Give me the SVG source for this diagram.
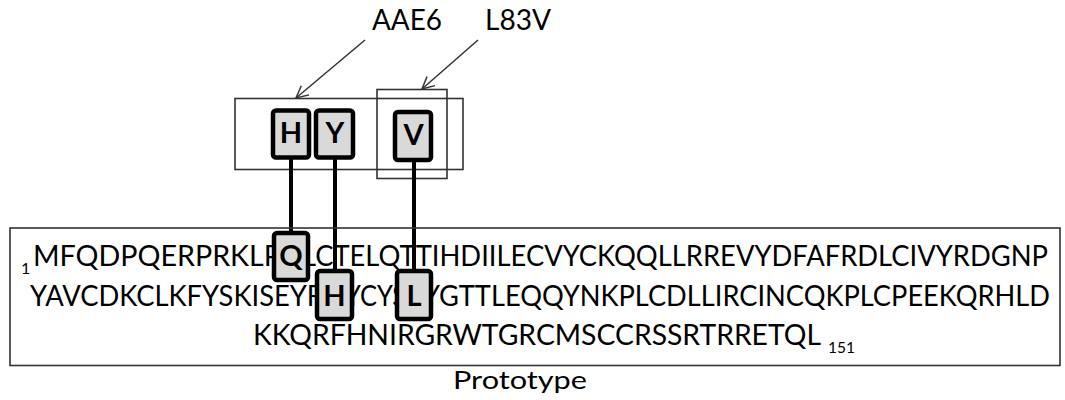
<svg xmlns="http://www.w3.org/2000/svg" width="1065" height="400" viewBox="0 0 1065 400">
  <style>
    .seq { font-family: Lato, "Open Sans", "Liberation Sans", sans-serif; font-size: 28px; fill: #000; }
    .sub { font-family: Lato, "Open Sans", "Liberation Sans", sans-serif; font-size: 16px; fill: #000; }
    .lbl { font-family: Lato, "Open Sans", "Liberation Sans", sans-serif; font-size: 28px; fill: #000; }
    .res { font-family: Lato, "Open Sans", "Liberation Sans", sans-serif; font-size: 29px; font-weight: bold; fill: #000; text-anchor: middle; }
    .frame { fill: none; stroke: #333; stroke-width: 1.6; }
    .rbox { fill: #d9d9d9; stroke: #000; stroke-width: 4.5; }
    .link { stroke: #000; stroke-width: 4; fill: none; }
    .arrow { stroke: #333; stroke-width: 1.5; fill: none; marker-end: url(#open); }
  </style>
  <defs>
    <marker id="open" markerUnits="userSpaceOnUse" markerWidth="16" markerHeight="16" refX="13" refY="7" orient="auto">
      <path d="M1,1 L13,7 L1,13" fill="none" stroke="#333" stroke-width="1.5"/>
    </marker>
  </defs>

  <rect width="1065" height="400" fill="#fff"/>

  <!-- Labels -->
  <g id="label-aae6">
    <text class="lbl" x="372" y="30" textLength="70" lengthAdjust="spacingAndGlyphs">AAE6</text>
  </g>
  <g id="label-l83v">
    <text class="lbl" x="485" y="30" textLength="66" lengthAdjust="spacingAndGlyphs">L83V</text>
  </g>

  <!-- Variant boxes -->
  <g id="variant-aae6">
    <rect class="frame" x="235" y="98.5" width="228" height="71"/>
  </g>
  <g id="variant-l83v">
    <rect class="frame" x="377" y="89.5" width="70" height="89"/>
  </g>

  <!-- Connectors -->
  <g id="connectors">
    <line class="arrow" x1="365" y1="40" x2="296" y2="98"/>
    <line class="arrow" x1="478" y1="40" x2="422" y2="89"/>
    <line class="link" x1="291" y1="157" x2="291" y2="233"/>
    <line class="link" x1="335" y1="157" x2="335" y2="271"/>
    <line class="link" x1="414" y1="160" x2="414" y2="271"/>
  </g>

  <!-- Top residues -->
  <g id="top-H">
    <rect class="rbox" x="273" y="110.5" width="36" height="47" rx="3"/>
    <text class="res" x="291" y="143">H</text>
  </g>
  <g id="top-Y">
    <rect class="rbox" x="316" y="110.5" width="37" height="47" rx="3"/>
    <text class="res" x="335" y="143">Y</text>
  </g>
  <g id="top-V">
    <rect class="rbox" x="395" y="112" width="36" height="48" rx="3"/>
    <text class="res" x="413.5" y="145">V</text>
  </g>

  <!-- Prototype sequence -->
  <g id="prototype">
    <rect class="frame" x="10" y="228" width="1050" height="137.5"/>
    <text class="sub" x="21" y="274">1</text>
    <text class="seq" x="33" y="266" textLength="248" lengthAdjust="spacingAndGlyphs">MFQDPQERPRKLP</text>
    <text class="seq" x="302" y="266" textLength="746" lengthAdjust="spacingAndGlyphs">LCTELQTTIHDIILECVYCKQQLLRREVYDFAFRDLCIVYRDGNP</text>
    <text class="seq" x="30" y="306" textLength="294" lengthAdjust="spacingAndGlyphs">YAVCDKCLKFYSKISEYR</text>
    <text class="seq" x="345" y="306" textLength="61" lengthAdjust="spacingAndGlyphs">YCYS</text>
    <text class="seq" x="423" y="306" textLength="627" lengthAdjust="spacingAndGlyphs">YGTTLEQQYNKPLCDLLIRCINCQKPLCPEEKQRHLD</text>
    <text class="seq" x="253" y="345" textLength="568" lengthAdjust="spacingAndGlyphs">KKQRFHNIRGRWTGRCMSCCRSSRTRRETQL</text>
    <text class="sub" x="828" y="353" textLength="27" lengthAdjust="spacingAndGlyphs">151</text>
  </g>

  <g id="res-Q14">
    <rect class="rbox" x="274" y="233" width="34" height="47" rx="3"/>
    <text class="res" x="291" y="266">Q</text>
  </g>
  <g id="res-H78">
    <rect class="rbox" x="317" y="271" width="35" height="48" rx="3"/>
    <text class="res" x="334.5" y="306">H</text>
  </g>
  <g id="res-L83">
    <rect class="rbox" x="397" y="271" width="34" height="48" rx="3"/>
    <text class="res" x="414" y="306">L</text>
  </g>

  <g id="title">
    <text class="lbl" x="453" y="389" textLength="134" lengthAdjust="spacingAndGlyphs" style="font-size:25px">Prototype</text>
  </g>
</svg>
